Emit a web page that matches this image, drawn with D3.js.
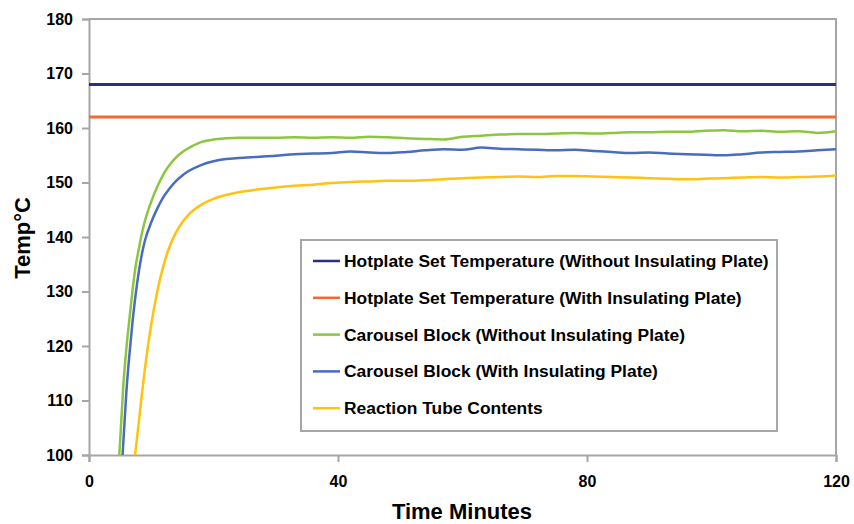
<!DOCTYPE html>
<html>
<head>
<meta charset="utf-8">
<script src="https://cdn.jsdelivr.net/npm/d3@7"></script>
<style>
  body { margin: 0; background: #fff; }
  svg text { font-family: "Liberation Sans", Arial, sans-serif; font-weight: bold; fill: #000; }
</style>
</head>
<body>
<div id="chart"></div>
<script>
// time axis (minutes) shared by the measured series
var minutes = [4, 5, 5.5, 6, 6.5, 7, 7.5, 8, 8.5, 9, 10, 11, 12, 13, 14, 15, 16, 18, 20, 22, 24,
  27, 30, 33, 36, 39, 42, 45, 48, 51, 54, 57, 60, 63, 66, 69, 72, 75, 78, 81, 84, 87, 90,
  93, 96, 99, 102, 105, 108, 111, 114, 117, 120];

var carouselNoPlate = [85, 102.5, 112.5, 119.5, 125, 130.3, 134.7, 137.8, 140.7, 143, 146.5, 149.3, 151.6, 153.3, 154.6, 155.6, 156.3, 157.4, 157.9, 158.1, 158.2,
  158.2, 158.2, 158.3, 158.2, 158.3, 158.2, 158.4, 158.3, 158.1, 158.0, 157.9, 158.4, 158.6, 158.8, 158.9, 158.9, 159.0, 159.1, 159.0, 159.1, 159.2, 159.2,
  159.3, 159.3, 159.5, 159.6, 159.4, 159.5, 159.3, 159.4, 159.1, 159.4];

var carouselPlate = [75, 92.5, 102, 111.5, 118.5, 124.5, 129.5, 133.6, 136.9, 139.4, 142.7, 145.3, 147.4, 149.0, 150.3, 151.3, 152.1, 153.2, 153.9, 154.3, 154.5,
  154.7, 154.9, 155.2, 155.3, 155.4, 155.7, 155.5, 155.4, 155.6, 155.9, 156.1, 156.0, 156.4, 156.2, 156.1, 156.0, 155.9, 156.0, 155.8, 155.6, 155.4, 155.5,
  155.3, 155.2, 155.1, 155.0, 155.2, 155.5, 155.6, 155.7, 155.9, 156.1];

var tubeContents = [null, null, null, 84, 90, 95.5, 101, 106, 111.2, 116, 124, 130.2, 134.9, 138.4, 140.9, 142.7, 144.1, 145.9, 147.0, 147.7, 148.2,
  148.7, 149.1, 149.4, 149.6, 149.9, 150.1, 150.2, 150.3, 150.3, 150.4, 150.6, 150.8, 150.9, 151.0, 151.1, 151.0, 151.2, 151.2, 151.1, 151.0, 150.9, 150.8,
  150.7, 150.6, 150.7, 150.8, 150.9, 151.0, 150.9, 151.0, 151.1, 151.3];

var setNoPlate = 168;
var setPlate = 162;

var seriesNames = [
  "Hotplate Set Temperature (Without Insulating Plate)",
  "Hotplate Set Temperature (With Insulating Plate)",
  "Carousel Block (Without Insulating Plate)",
  "Carousel Block (With Insulating Plate)",
  "Reaction Tube Contents"
];
var seriesColors = ["#2b2f7f", "#f26a2e", "#8cc63f", "#4a6cc0", "#ffc20e"];

var xTicks = [0, 40, 80, 120];
var yTicks = [100, 110, 120, 130, 140, 150, 160, 170, 180];

var w = 854, h = 524;
var plotLeft = 89, plotRight = 836, plotTop = 19, plotBottom = 455;

var svg = d3.select("#chart").append("svg")
  .attr("width", w)
  .attr("height", h);

var x = d3.scaleLinear().domain([0, 120]).range([plotLeft, plotRight]);
var y = d3.scaleLinear().domain([100, 180]).range([plotBottom, plotTop]);

svg.append("clipPath").attr("id", "plotclip")
  .append("rect")
  .attr("x", plotLeft).attr("y", plotTop)
  .attr("width", plotRight - plotLeft).attr("height", plotBottom - plotTop);

// plot frame (top and right)
svg.append("path")
  .attr("d", "M" + plotLeft + "," + plotTop + "H" + plotRight + "V" + plotBottom)
  .attr("fill", "none")
  .attr("stroke", "#a6a6a6")
  .attr("stroke-width", 2);

// axes
var xAxis = svg.append("g")
  .attr("transform", "translate(0," + plotBottom + ")")
  .call(d3.axisBottom(x).tickValues(xTicks).tickSize(7).tickPadding(14).tickFormat(d3.format("d")));
var yAxis = svg.append("g")
  .attr("transform", "translate(" + plotLeft + ",0)")
  .call(d3.axisLeft(y).tickValues(yTicks).tickSize(7).tickPadding(9).tickFormat(d3.format("d")));

[xAxis, yAxis].forEach(function (g) {
  g.select(".domain").attr("stroke", "#a6a6a6").attr("stroke-width", 2);
  g.selectAll(".tick line").attr("stroke", "#a6a6a6").attr("stroke-width", 2);
  g.selectAll(".tick text")
    .attr("font-size", 16)
    .attr("font-family", "'Liberation Sans', Arial, sans-serif")
    .attr("font-weight", "bold")
    .attr("fill", "#000");
});

// axis titles
svg.append("text")
  .attr("x", 462)
  .attr("y", 519)
  .attr("text-anchor", "middle")
  .attr("font-size", 22)
  .text("Time Minutes");

svg.append("text")
  .attr("transform", "translate(30,238) rotate(-90)")
  .attr("text-anchor", "middle")
  .attr("font-size", 22)
  .text("Temp°C");

// lines
var plot = svg.append("g").attr("clip-path", "url(#plotclip)");

var line = d3.line()
  .defined(function (d) { return d[1] != null; })
  .x(function (d) { return x(d[0]); })
  .y(function (d) { return y(d[1]); })
  .curve(d3.curveMonotoneX);

var flat = [
  { v: setNoPlate, c: seriesColors[0] },
  { v: setPlate, c: seriesColors[1] }
];
plot.selectAll(".setline")
  .data(flat)
  .enter().append("path")
  .attr("class", "setline")
  .attr("d", function (d) { return line([[0, d.v], [120, d.v]]); })
  .attr("fill", "none")
  .attr("stroke", function (d) { return d.c; })
  .attr("stroke-width", 3);

var measured = [
  { vals: carouselNoPlate, c: seriesColors[2] },
  { vals: carouselPlate, c: seriesColors[3] },
  { vals: tubeContents, c: seriesColors[4] }
];
plot.selectAll(".measured")
  .data(measured)
  .enter().append("path")
  .attr("class", "measured")
  .attr("d", function (d) {
    return line(minutes.map(function (t, i) { return [t, d.vals[i]]; }));
  })
  .attr("fill", "none")
  .attr("stroke", function (d) { return d.c; })
  .attr("stroke-width", 2.5)
  .attr("stroke-linejoin", "round");

// legend
var legend = svg.append("g").attr("transform", "translate(301,240)");
legend.append("rect")
  .attr("width", 476)
  .attr("height", 191)
  .attr("fill", "#fff")
  .attr("stroke", "#a6a6a6")
  .attr("stroke-width", 2);

var rows = legend.selectAll(".row")
  .data(seriesNames)
  .enter().append("g")
  .attr("transform", function (d, i) { return "translate(0," + (21 + i * 36.8) + ")"; });

rows.append("line")
  .attr("x1", 12).attr("x2", 39)
  .attr("stroke", function (d, i) { return seriesColors[i]; })
  .attr("stroke-width", 2.5);

rows.append("text")
  .attr("x", 43)
  .attr("y", 6)
  .attr("font-size", 17.4)
  .text(function (d) { return d; });
</script>
</body>
</html>
